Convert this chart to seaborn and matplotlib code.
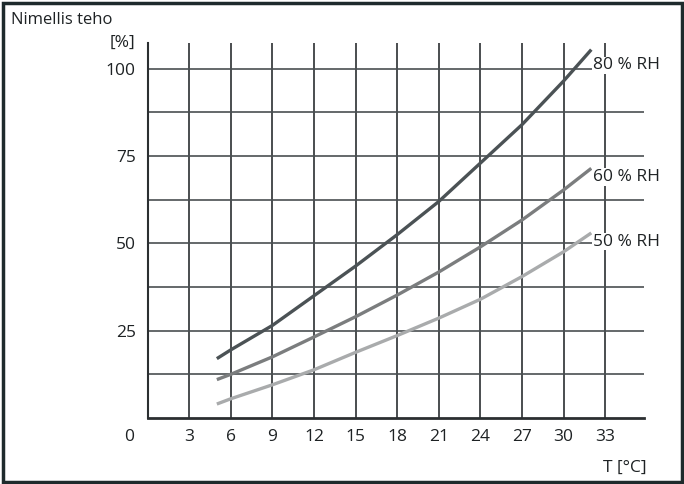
import matplotlib
matplotlib.use("Agg")
import matplotlib.pyplot as plt
import seaborn as sns
import pandas as pd
from matplotlib.patches import Rectangle

# ---- data ----
temps = [5, 6, 9, 12, 15, 18, 21, 24, 27, 30, 32]
rh80 = [17, 19.5, 26.5, 35, 43.5, 52.5, 62, 73, 84, 96.5, 105.5]
rh60 = [11, 12.5, 17.5, 23.2, 29, 35.2, 41.8, 49, 56.7, 65.3, 71.5]
rh50 = [4, 5.5, 9.5, 13.8, 18.8, 23.6, 28.6, 34, 40.5, 47.6, 53]
series_names = ["80 % RH", "60 % RH", "50 % RH"]
x_ticks = [3, 6, 9, 12, 15, 18, 21, 24, 27, 30, 33]
y_ticks = [25, 50, 75, 100]
y_grid = [12.5, 25, 37.5, 50, 62.5, 75, 87.5, 100]
title = "Nimellis teho"
unit_y = "[%]"
unit_x = "T [°C]"

df = pd.DataFrame({
    "T": temps * 3,
    "P": rh80 + rh60 + rh50,
    "RH": [series_names[0]] * len(temps) + [series_names[1]] * len(temps) + [series_names[2]] * len(temps),
})

sns.set_theme(style="white")
plt.rcParams["font.family"] = ["Open Sans", "DejaVu Sans"]
FS = 12.5
TXT = "#1e2224"

fig = plt.figure(figsize=(6.84, 4.84), dpi=100)
ax = fig.add_axes([147.5 / 684, 66 / 484, (644 - 147.5) / 684, (418 - 43) / 484])

ax.set_xlim(0, 35.8)
ax.set_ylim(0, 107.4)

# grid
for xv in x_ticks:
    ax.axvline(xv, color="#2b2f31", lw=1.2, zorder=1)
for yv in y_grid:
    ax.axhline(yv, color="#4a4f52", lw=1.2, zorder=1)

palette = {series_names[0]: "#4b5255", series_names[1]: "#7b7d7e", series_names[2]: "#a9abac"}
sns.lineplot(data=df, x="T", y="P", hue="RH", palette=palette, lw=2.4,
             legend=False, ax=ax, zorder=3)
for line in ax.get_lines():
    line.set_solid_capstyle("butt")

# end labels
for name, vals in zip(series_names, [rh80, rh60, rh50]):
    yoff = {series_names[0]: -4.5, series_names[1]: -2.5, series_names[2]: -2.5}[name]
    ax.text(temps[-1] + 0.1, vals[-1] + yoff, name, fontsize=FS, color=TXT,
            ha="left", va="center", zorder=4, clip_on=False,
            bbox=dict(facecolor="white", edgecolor="none", pad=0.5))

# axes styling
for s in ["top", "right"]:
    ax.spines[s].set_visible(False)
ax.spines["left"].set_color("#2b2f31")
ax.spines["left"].set_linewidth(1.5)
ax.spines["bottom"].set_color("#2b2f31")
ax.spines["bottom"].set_linewidth(2)
ax.set_xticks(x_ticks)
ax.set_yticks(y_ticks)
ax.set_xticklabels([str(v) for v in x_ticks])
ax.set_yticklabels([str(v) for v in y_ticks])
ax.tick_params(axis="both", length=0, labelsize=FS, labelcolor=TXT)
ax.tick_params(axis="x", pad=8)
ax.tick_params(axis="y", pad=8.5)
ax.set_xlabel("")
ax.set_ylabel("")

# origin label
ax.annotate("0", xy=(0, 0), xycoords="data", xytext=(-13.3, -13.7),
            textcoords="offset points", ha="center", va="center",
            fontsize=FS, color=TXT, annotation_clip=False)
# unit labels
ax.annotate(unit_y, xy=(0, 1), xycoords="axes fraction", xytext=(-8.5, 0),
            textcoords="offset points", ha="right", va="center",
            fontsize=FS, color=TXT, annotation_clip=False)
ax.annotate(unit_x, xy=(1, 0), xycoords="axes fraction", xytext=(2, -36),
            textcoords="offset points", ha="right", va="center",
            fontsize=FS, color=TXT, annotation_clip=False)
fig.text(11 / 684, 1 - 20 / 484, title, ha="left", va="center", fontsize=12, color=TXT)

# frame
fig.patches.append(Rectangle((2.5 / 684, 2.5 / 484), 1 - 5 / 684, 1 - 5 / 484,
                             transform=fig.transFigure, fill=False,
                             edgecolor="#1e2a2c", lw=2.5))

fig.savefig("out.png", dpi=100)
